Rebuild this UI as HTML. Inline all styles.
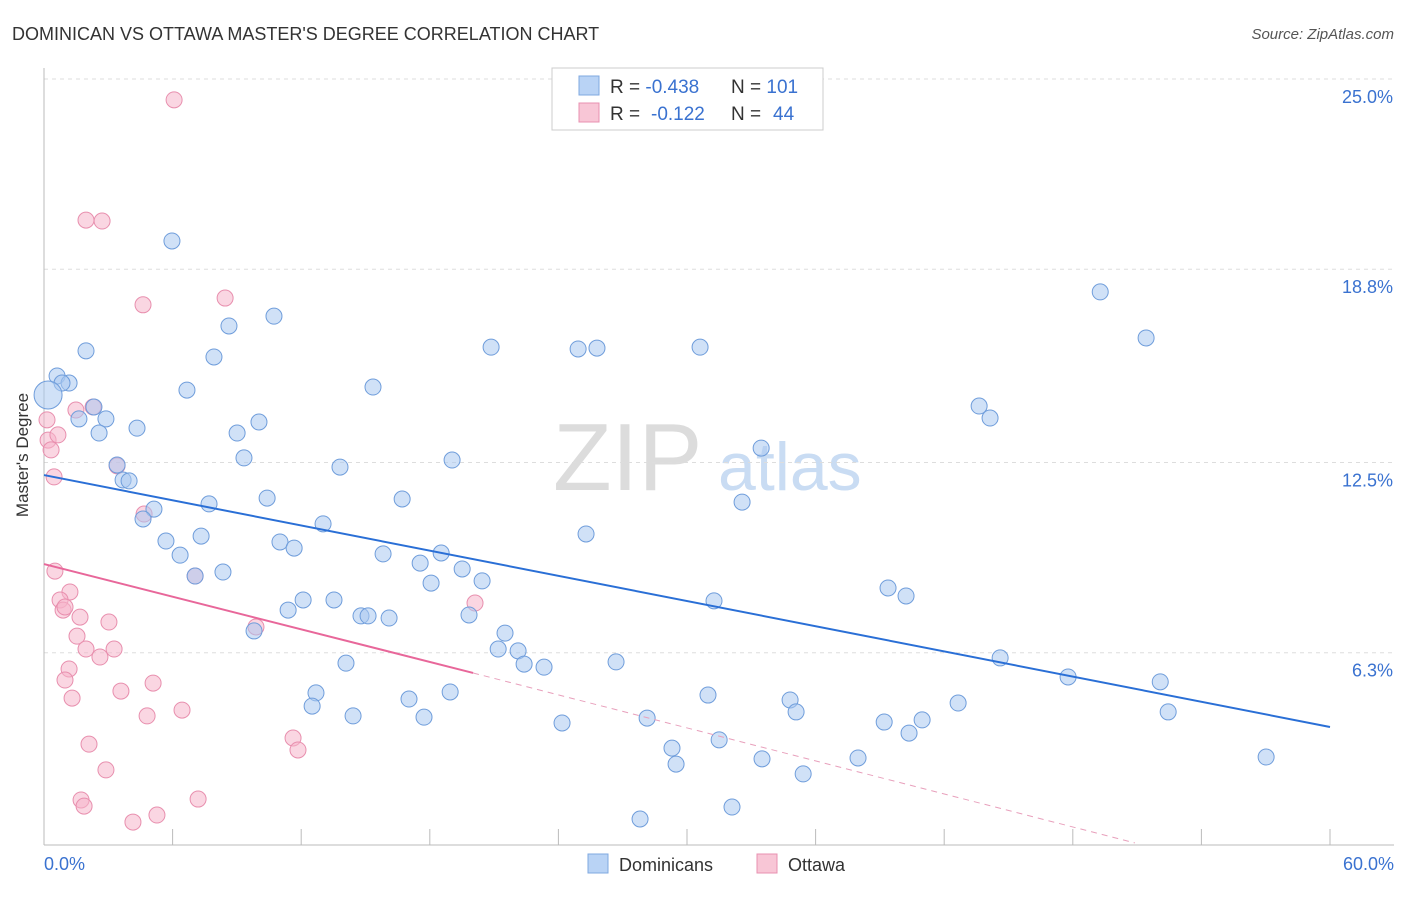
<!DOCTYPE html>
<html><head><meta charset="utf-8"><style>
body{margin:0;background:#fff;font-family:"Liberation Sans",sans-serif;}
svg text{font-family:"Liberation Sans",sans-serif;}
</style></head><body>
<svg id="chart" width="1406" height="892" xmlns="http://www.w3.org/2000/svg">
<text x="12" y="40" font-size="18" fill="#333">DOMINICAN VS OTTAWA MASTER'S DEGREE CORRELATION CHART</text>
<text x="1394" y="39" font-size="15" fill="#555" text-anchor="end" font-style="italic">Source: ZipAtlas.com</text>
<g>
<text x="553" y="490" font-size="96" fill="#dcdcdc" font-family="Liberation Serif">ZIP</text>
<text x="718" y="490" font-size="68" fill="#c9dcf3">atlas</text>
</g>
<g id="grid"></g>
<g id="axes"></g>
<g id="pinkpts"></g>
<g id="bluepts"></g>
<g id="lines"></g>
<text x="28" y="455" font-size="17" fill="#333" text-anchor="middle" transform="rotate(-90 28 455)">Master's Degree</text>
<text x="44" y="870" font-size="18" fill="#3a72d0">0.0%</text>
<text x="1394" y="870" font-size="18" fill="#3a72d0" text-anchor="end">60.0%</text>
<g>
<rect x="552" y="68" width="271" height="62" fill="#fff" stroke="#ccc"/>
<rect x="579" y="76" width="20" height="19" fill="#b9d3f5" stroke="#7fa8e0"/>
<rect x="579" y="103" width="20" height="19" fill="#f8c6d6" stroke="#e890b0"/>
<text x="610" y="93" font-size="19" fill="#333">R = <tspan fill="#3a72d0">-0.438</tspan><tspan x="731">N = </tspan><tspan fill="#3a72d0">101</tspan></text>
<text x="610" y="120" font-size="19" fill="#333">R = <tspan fill="#3a72d0" x="651">-0.122</tspan><tspan x="731">N = </tspan><tspan fill="#3a72d0" x="773">44</tspan></text>
</g>
<g>
<rect x="588" y="854" width="20" height="19" fill="#b9d3f5" stroke="#7fa8e0"/>
<text x="619" y="871" font-size="18" fill="#333">Dominicans</text>
<rect x="757" y="854" width="20" height="19" fill="#f8c6d6" stroke="#e890b0"/>
<text x="788" y="871" font-size="18" fill="#333">Ottawa</text>
</g>
</svg>
<script>
const yTicks=[25.0,18.8,12.5,6.3];
const yTickLabels=["25.0%","18.8%","12.5%","6.3%"];
const xTicks=[0,6,12,18,24,30,36,42,48,54,60];
const blueX=[5.97,1.96,0.61,1.17,0.84,1.63,2.89,2.33,2.57,4.34,3.41,3.69,3.97,5.13,4.62,5.69,6.35,7.33,7.05,8.35,7.70,6.67,7.93,8.63,10.73,9.01,10.03,9.33,10.41,11.01,11.67,13.02,13.81,15.35,16.71,15.82,17.55,18.06,18.53,19.04,19.51,20.44,19.83,12.09,11.39,13.53,14.79,15.12,16.10,9.80,14.09,12.69,12.51,14.42,17.03,17.73,18.95,20.86,21.51,21.19,22.12,22.40,23.33,25.29,24.92,25.80,24.17,26.69,28.14,29.30,29.49,30.61,31.26,30.98,31.50,32.10,27.81,33.46,32.57,33.50,34.81,35.09,35.42,37.98,39.20,39.38,40.22,40.36,40.97,42.65,43.63,44.14,44.61,47.78,49.28,51.42,52.08,52.45,57.02];
const blueY=[19.72,16.14,15.32,15.09,15.09,13.92,13.92,14.31,13.46,13.62,12.42,11.93,11.90,10.98,10.66,9.94,9.48,10.10,8.80,8.93,11.15,14.86,15.94,16.95,17.27,13.46,13.82,12.65,11.34,9.91,9.71,10.50,12.35,14.96,11.31,9.52,9.22,8.57,9.55,12.58,9.03,8.64,7.53,8.02,7.69,8.02,7.50,7.50,7.43,7.01,5.96,4.99,4.56,4.24,4.79,4.20,5.02,16.26,6.94,6.42,6.36,5.93,5.83,10.17,16.20,16.23,4.01,6.00,4.17,3.19,2.67,16.26,7.99,4.92,3.46,1.27,0.88,12.97,11.21,2.84,4.76,4.37,2.35,2.87,4.04,8.41,8.15,3.68,4.11,4.66,14.34,13.95,6.13,5.51,18.06,16.56,5.35,4.37,2.90];
const bigBlue=[0.19,14.70];
const pinkX=[6.07,1.96,2.71,4.62,8.45,0.14,0.19,0.33,0.65,0.47,1.49,2.29,3.41,4.67,0.51,1.21,0.75,0.89,0.98,1.68,1.54,3.03,1.96,3.27,2.61,1.17,0.98,1.31,3.59,5.09,4.81,6.44,7.05,9.89,11.62,11.85,20.11,2.10,2.89,1.73,1.87,7.19,5.27,4.15];
const pinkY=[24.32,20.40,20.37,17.64,17.86,13.89,13.23,12.91,13.40,12.03,14.21,14.31,12.39,10.82,8.96,8.28,8.02,7.69,7.79,7.46,6.84,7.30,6.42,6.42,6.16,5.77,5.41,4.82,5.05,5.31,4.24,4.43,8.80,7.14,3.52,3.13,7.92,3.32,2.48,1.50,1.30,1.53,1.01,0.78];
const blueTrend=[0,12.09,60,3.88];
const pinkTrend=[0,9.19,20.02,5.64];
const pinkDash=[20.02,5.64,50.9,0.1];

const NS="http://www.w3.org/2000/svg";
const X=v=>44+v*(1286/60);
const Y=v=>846-v*30.68;
function mk(tag,attrs,parent){const e=document.createElementNS(NS,tag);for(const k in attrs)e.setAttribute(k,attrs[k]);document.getElementById(parent).appendChild(e);return e;}
yTicks.forEach((t,i)=>{
 const l=mk('line',{x1:44,x2:1394,y1:Y(t),y2:Y(t),stroke:'#ddd','stroke-dasharray':'4,4'},'grid');
 
 
 const tx=mk('text',{x:1393,y:Y(t)+24,'font-size':18,fill:'#3a72d0','text-anchor':'end'},'grid');
 tx.textContent=yTickLabels[i];
 
 
});
const ax=mk('line',{x1:44,x2:1394,y1:845,y2:845,stroke:'#bbb'},'axes');


const ay=mk('line',{x1:44,x2:44,y1:68,y2:845,stroke:'#bbb'},'axes');


xTicks.forEach(t=>{
 const l=mk('line',{x1:X(t),x2:X(t),y1:829,y2:845,stroke:'#bbb'},'axes');
 
 
});
pinkX.forEach((v,i)=>{
 const c=mk('circle',{cx:X(v),cy:Y(pinkY[i]),r:8,fill:'#f5b5ca','fill-opacity':0.55,stroke:'#e88fae','stroke-width':1},'pinkpts');
 
 
});
blueX.forEach((v,i)=>{
 const c=mk('circle',{cx:X(v),cy:Y(blueY[i]),r:8,fill:'#a9c8f0','fill-opacity':0.55,stroke:'#6f9ddb','stroke-width':1},'bluepts');
 
 
});
const bb=mk('circle',{cx:X(bigBlue[0]),cy:Y(bigBlue[1]),r:14,fill:'#a9c8f0','fill-opacity':0.55,stroke:'#6f9ddb'},'bluepts');


const bl=mk('line',{x1:X(blueTrend[0]),y1:Y(blueTrend[1]),x2:X(blueTrend[2]),y2:Y(blueTrend[3]),stroke:'#2a6fd6','stroke-width':2},'lines');


const pl=mk('line',{x1:X(pinkTrend[0]),y1:Y(pinkTrend[1]),x2:X(pinkTrend[2]),y2:Y(pinkTrend[3]),stroke:'#e8679a','stroke-width':2},'lines');


const pd=mk('line',{x1:X(pinkDash[0]),y1:Y(pinkDash[1]),x2:X(pinkDash[2]),y2:Y(pinkDash[3]),stroke:'#e8a0bc','stroke-width':1,'stroke-dasharray':'6,5'},'lines');


</script>
</body></html>
